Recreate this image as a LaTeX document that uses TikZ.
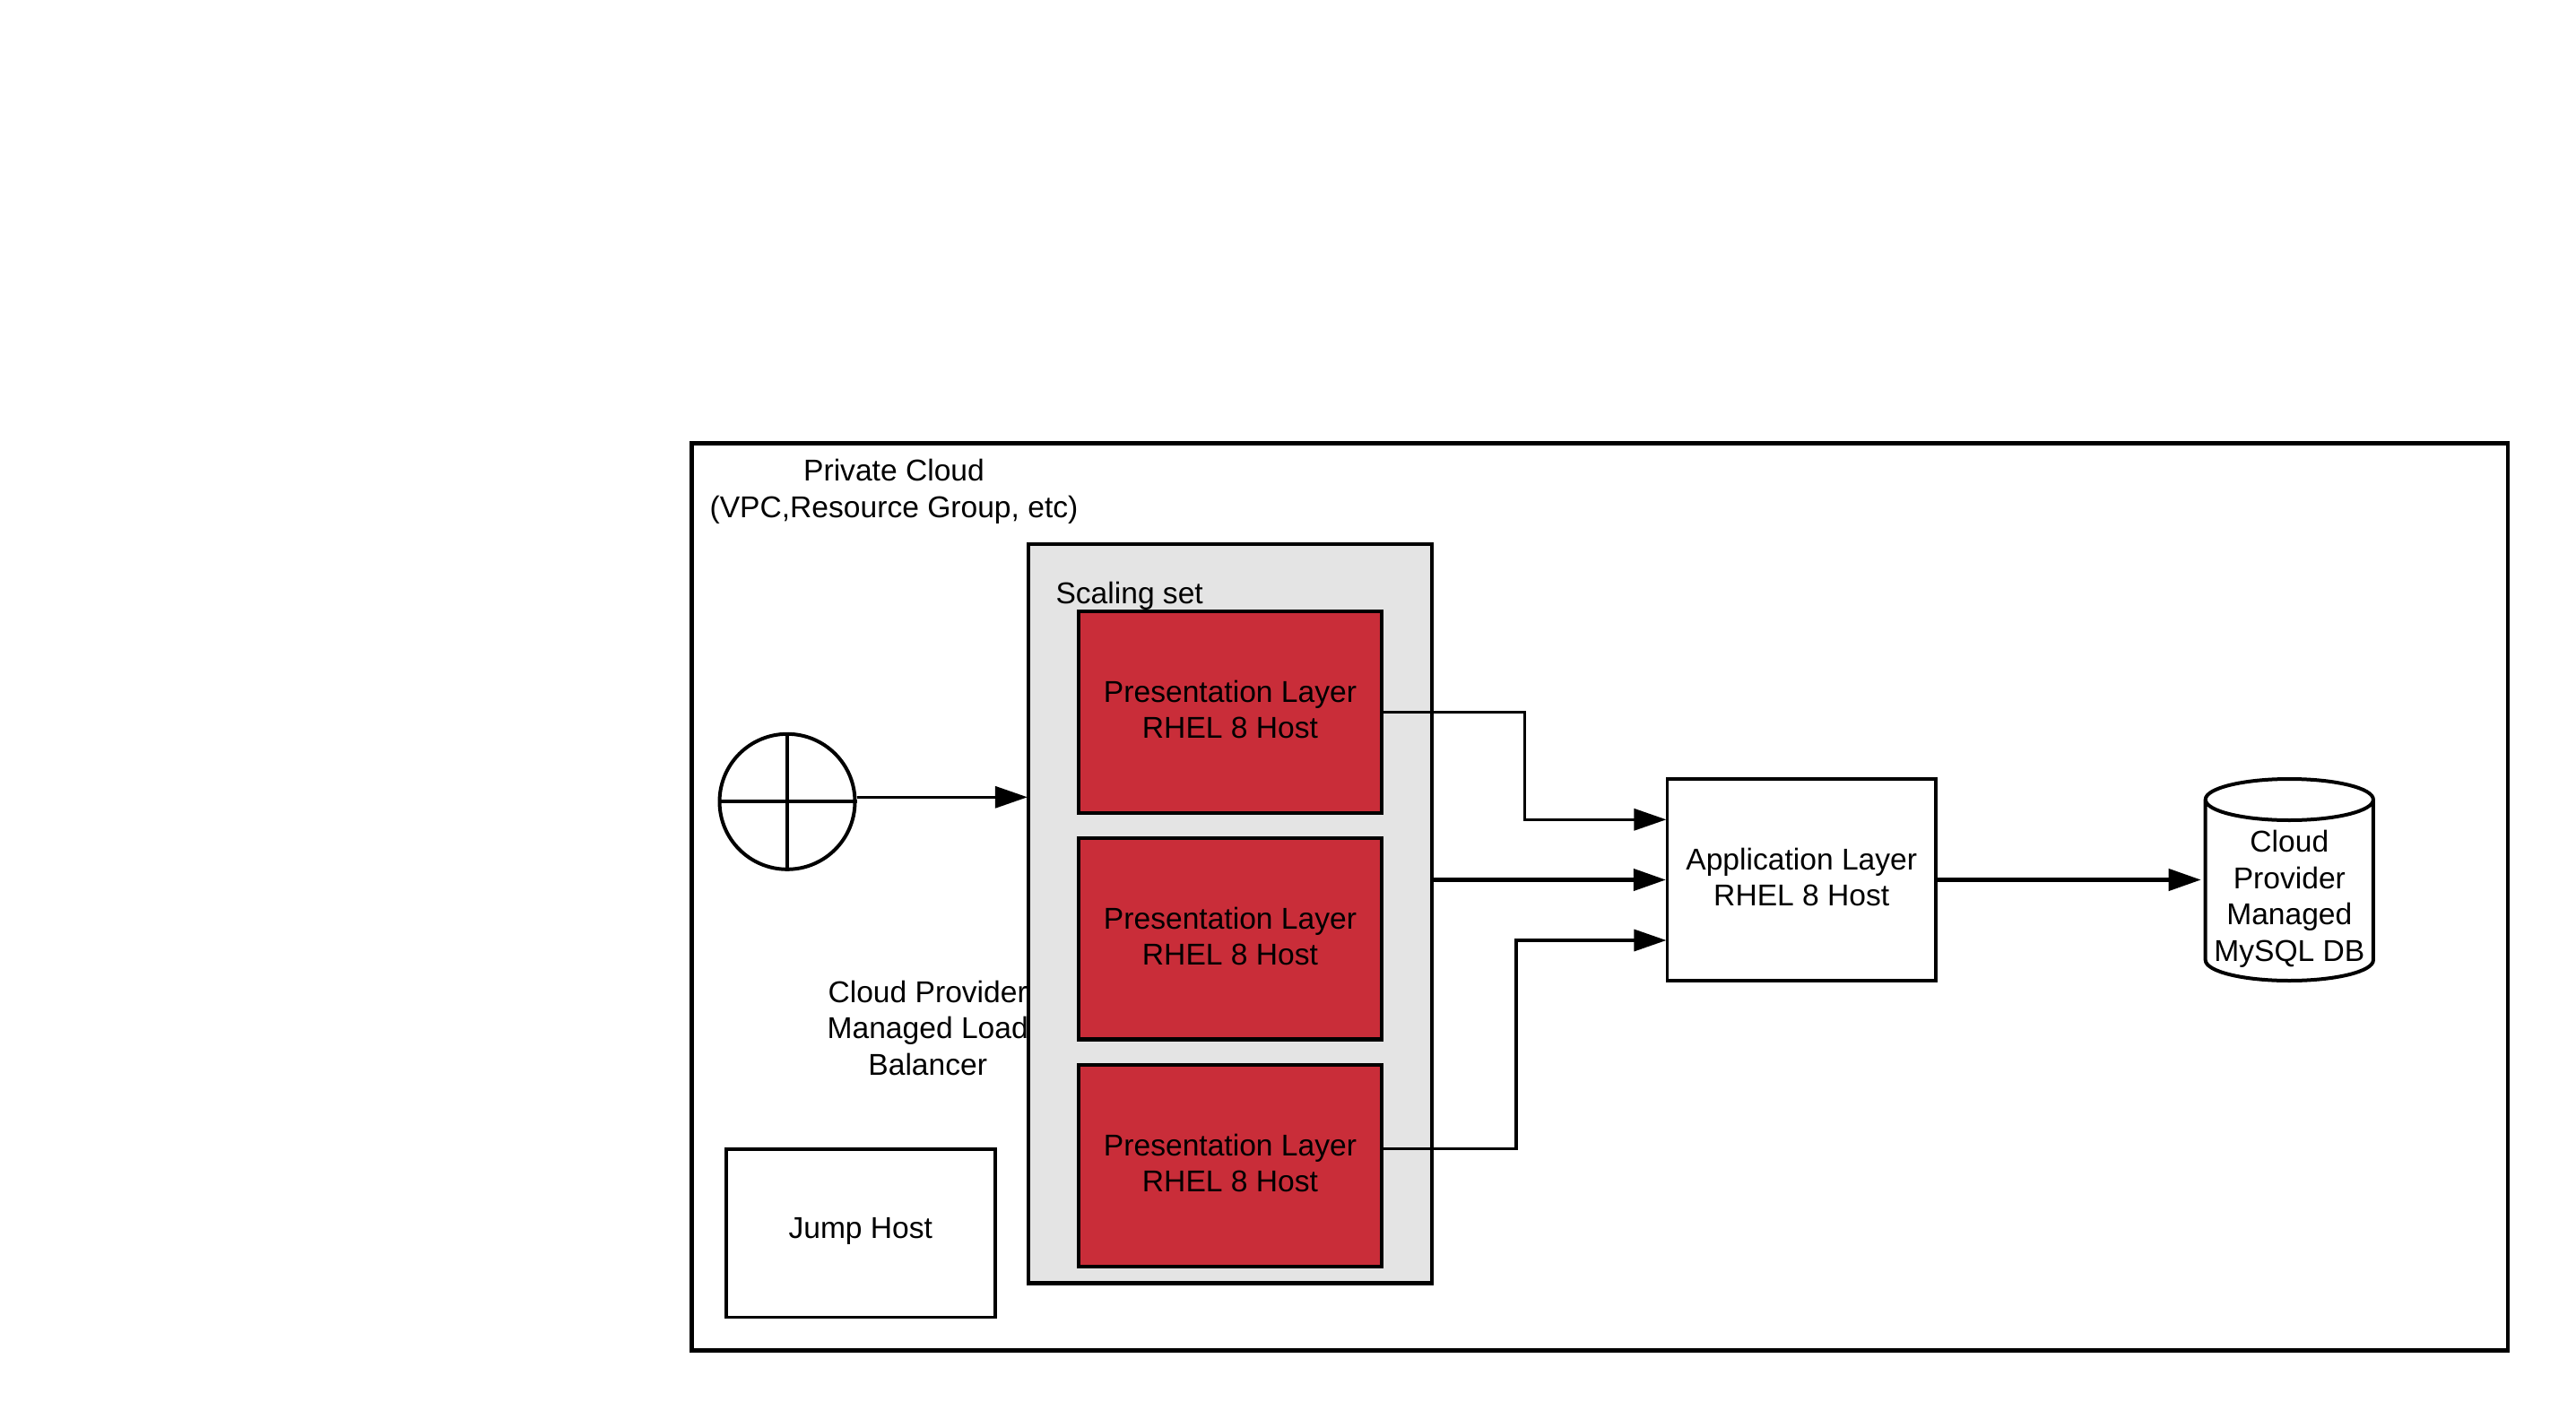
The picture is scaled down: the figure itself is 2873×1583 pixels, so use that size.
\documentclass[tikz,border=0pt]{standalone}
\usepackage{fontspec}
\setmainfont{Liberation Sans}
\usetikzlibrary{arrows.meta,calc}
\definecolor{redfill}{HTML}{C92D39}
\definecolor{greyfill}{HTML}{E4E4E4}
\newcommand{\lift}{\rule[-3pt]{0pt}{3pt}}
\tikzset{
  txt/.style={font=\fontsize{16.8pt}{20.25pt}\selectfont, align=center, inner sep=0pt, outer sep=0pt, text=black},
  boxnode/.style={txt, draw=black, rectangle},
  redbox/.style={boxnode, fill=redfill, line width=2.1pt, minimum width=169.35pt, minimum height=112.3pt},
  conn/.style={line width=1.65pt, -{Triangle[length=18pt,width=12pt]}, shorten >=0.8pt},
  connb/.style={conn, line width=2.1pt}
}
\begin{document}
\begin{tikzpicture}[x=0.5pt,y=-0.5pt]
\useasboundingbox (0,0) rectangle (2873,1583);
% outer frame
\node[boxnode, line width=2.2pt, minimum width=1012.75pt, minimum height=506.1pt] (outer) at (1784.25,1000.4) {};
\node[txt] (privlabel) at (997,548.5) {Private Cloud\\(VPC,Resource Group, etc)};
% label under the load balancer sits behind the scaling set
\node[txt] (lblabel) at (1034.7,1146.5) {Cloud Provider\\Managed Load\\Balancer};
% scaling set
\node[boxnode, fill=greyfill, line width=2.2pt, minimum width=225pt, minimum height=412.4pt] (scaling) at (1372,1019.2) {};
\node[txt, anchor=base west] (scalelabel) at (1177.5,673) {Scaling set};
\node[redbox] (p1) at (1372,794.4) {Presentation Layer\\RHEL 8 Host\lift};
\node[redbox] (p2) at (1372,1047.2) {Presentation Layer\\RHEL 8 Host\lift};
\node[redbox] (p3) at (1372,1300.4) {Presentation Layer\\RHEL 8 Host\lift};
% load balancer
\node[draw=black, fill=white, circle, line width=2pt, inner sep=0pt, minimum size=75.5pt] (lb) at (878,894.3) {};
\draw[line width=1.7pt] (lb.north) -- (lb.south);
\draw[line width=2pt] (lb.west) -- (lb.east);
% jump host
\node[boxnode, line width=1.9pt, minimum width=149.8pt, minimum height=93.7pt] (jump) at (959.8,1375.7) {Jump Host\rule[-5.5pt]{0pt}{5.5pt}};
% application layer
\node[boxnode, line width=1.7pt, minimum width=149.75pt, minimum height=112.5pt] (app) at (2009.25,981.5) {Application Layer\\RHEL 8 Host\lift};
% database cylinder
\node[txt, minimum width=93.6pt, minimum height=112.5pt] (db) at (2553.3,981.5) {};
\draw[line width=2pt, fill=white]
  ($(db.north west)+(0,23)$) arc[start angle=180,end angle=360,x radius=46.8pt,y radius=11.5pt]
  arc[start angle=0,end angle=180,x radius=46.8pt,y radius=11.5pt]
  -- ($(db.south west)+(0,-23)$) arc[start angle=180,end angle=360,x radius=46.8pt,y radius=11.5pt]
  -- ($(db.north east)+(0,23)$);
\node[txt] (dblabel) at (2553.3,1003) {Cloud\\Provider\\Managed\\MySQL DB};
% connector way-points
\coordinate (s1) at (1147.5,889.3);
\coordinate (a1) at (1860,914.3);
\coordinate (a3) at (1860,1049);
\coordinate (e1) at (1700.5,794.4);
\coordinate (s3) at (1541.3,1281.8);
\coordinate (e3) at (1691,1281.8);
% connectors
\draw[conn] (lb.east |- s1) -- (s1);
\draw[conn] (p1.east) -- (e1) |- (a1);
\draw[connb] (scaling.east |- app.west) -- (app.west);
\draw[conn] (s3) -- (e3) |- (a3);
\draw[connb, shorten >=2.5pt] (app.east) -- (db.west);
\end{tikzpicture}
\end{document}
